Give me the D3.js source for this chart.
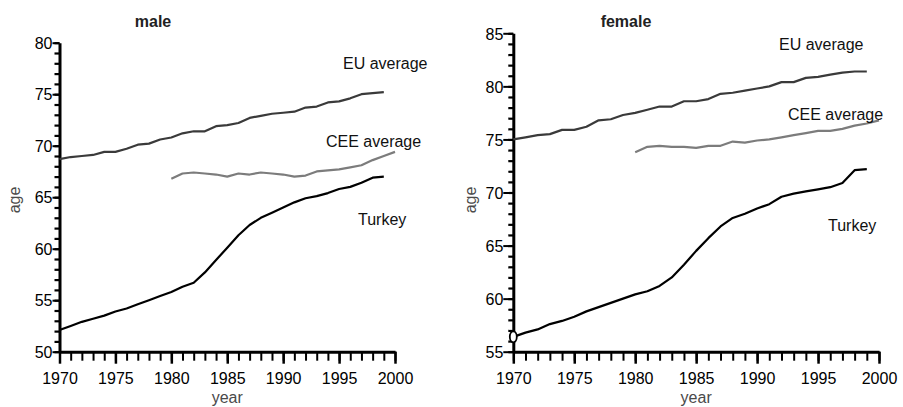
<!DOCTYPE html>
<html lang="en">
<head>
<meta charset="utf-8">
<title>Life expectancy</title>
<script src="https://cdn.jsdelivr.net/npm/d3@7"></script>
<style>
  body { margin: 0; background: #fff; }
  svg { display: block; font-family: "Liberation Sans", Arial, Helvetica, sans-serif; }
  .axis path, .axis line { stroke: #000; }
  .axis text { font-size: 16px; fill: #000; font-family: "Liberation Sans", Arial, sans-serif; }
</style>
</head>
<body>
<svg id="chart" width="903" height="407"></svg>
<script>
// years
let years_full = d3.range(1970, 2000);   // 1970..1999
let years_cee = d3.range(1980, 2001);    // 1980..2000
let x_ticks = [1970, 1975, 1980, 1985, 1990, 1995, 2000];

// male
let male_eu = [68.7, 68.9, 69.0, 69.1, 69.4, 69.4, 69.7, 70.1, 70.2, 70.6,
               70.8, 71.2, 71.4, 71.4, 71.9, 72.0, 72.2, 72.7, 72.9, 73.1,
               73.2, 73.3, 73.7, 73.8, 74.2, 74.3, 74.6, 75.0, 75.1, 75.2];
let male_cee = [66.8, 67.3, 67.4, 67.3, 67.2, 67.0, 67.3, 67.2, 67.4, 67.3,
                67.2, 67.0, 67.1, 67.5, 67.6, 67.7, 67.9, 68.1, 68.6, 69.0, 69.4];
let male_turkey = [52.1, 52.5, 52.9, 53.2, 53.5, 53.9, 54.2, 54.6, 55.0, 55.4,
                   55.8, 56.3, 56.7, 57.7, 58.9, 60.1, 61.3, 62.3, 63.0, 63.5,
                   64.0, 64.5, 64.9, 65.1, 65.4, 65.8, 66.0, 66.4, 66.9, 67.0];

// female
let female_eu = [75.0, 75.2, 75.4, 75.5, 75.9, 75.9, 76.2, 76.8, 76.9, 77.3,
                 77.5, 77.8, 78.1, 78.1, 78.6, 78.6, 78.8, 79.3, 79.4, 79.6,
                 79.8, 80.0, 80.4, 80.4, 80.8, 80.9, 81.1, 81.3, 81.4, 81.4];
let female_cee = [73.8, 74.3, 74.4, 74.3, 74.3, 74.2, 74.4, 74.4, 74.8, 74.7,
                  74.9, 75.0, 75.2, 75.4, 75.6, 75.8, 75.8, 76.0, 76.3, 76.5, 76.8];
let female_turkey = [56.4, 56.8, 57.1, 57.6, 57.9, 58.3, 58.8, 59.2, 59.6, 60.0,
                     60.4, 60.7, 61.2, 62.0, 63.2, 64.5, 65.7, 66.8, 67.6, 68.0,
                     68.5, 68.9, 69.6, 69.9, 70.1, 70.3, 70.5, 70.9, 72.1, 72.2];

let svg = d3.select('#chart');

function zip(xs, ys){
    return xs.map((x, i) => ({x: x, y: ys[i]}));
}

function draw_panel(p){
    let x = d3.scaleLinear().domain([1970, 2000]).range(p.xr);
    let y = d3.scaleLinear().domain(p.yd).range(p.yr);
    let g = svg.append('g');

    // minor ticks y
    g.append('g').attr('class', 'axis')
        .attr('transform', `translate(${p.xr[0]},0)`)
        .call(d3.axisLeft(y).tickValues(d3.range(p.yd[0], p.yd[1] + 1)).tickSize(5).tickFormat(''))
        .call(a => a.selectAll('line').attr('stroke-width', 2.2))
        .call(a => a.select('.domain').remove());
    // major ticks y
    g.append('g').attr('class', 'axis')
        .attr('transform', `translate(${p.xr[0]},0)`)
        .call(d3.axisLeft(y).tickValues(d3.range(p.yd[0], p.yd[1] + 1, 5)).tickSize(p.ytick).tickSizeOuter(0).tickPadding(0))
        .call(a => a.selectAll('line').attr('stroke-width', 2))
        .call(a => a.select('.domain').attr('stroke-width', 3))
        .call(a => a.selectAll('text').attr('dy', '0.36em'));

    // x axis
    g.append('g').attr('class', 'axis')
        .attr('transform', `translate(0,${p.yr[0]})`)
        .call(d3.axisBottom(x).tickValues(d3.range(1970, 2001)).tickSize(9).tickFormat(''))
        .call(a => a.selectAll('line').attr('stroke-width', 2))
        .call(a => a.select('.domain').remove());
    g.append('g').attr('class', 'axis')
        .attr('transform', `translate(0,${p.yr[0]})`)
        .call(d3.axisBottom(x).tickValues(x_ticks).tickSize(12).tickSizeOuter(0).tickPadding(9).tickFormat(d3.format('d')))
        .call(a => a.selectAll('line').attr('stroke-width', 2.5))
        .call(a => a.select('.domain').attr('stroke-width', 3))
        .call(a => a.selectAll('text').attr('dy', '0.72em'));

    let line = d3.line().x(d => x(d.x)).y(d => y(d.y));
    p.series.forEach(s => {
        g.append('path')
            .datum(zip(s.years, s.values))
            .attr('d', line)
            .attr('fill', 'none')
            .attr('stroke', s.color)
            .attr('stroke-width', 2.2)
            .attr('stroke-linejoin', 'round');
        g.append('text')
            .attr('x', s.lx).attr('y', s.ly)
            .attr('font-size', 16)
            .attr('fill', '#111')
            .text(s.name);
    });

    if(p.marker){
        g.append('ellipse')
            .attr('cx', x(p.marker.x)).attr('cy', y(p.marker.y))
            .attr('rx', 3.5).attr('ry', 5.5)
            .attr('fill', '#fff').attr('stroke', '#000').attr('stroke-width', 1.8);
    }

    // title
    g.append('text')
        .attr('x', p.tx).attr('y', 26.5)
        .attr('text-anchor', 'middle')
        .attr('font-size', 16).attr('font-weight', 'bold').attr('fill', '#222')
        .text(p.title);
    // axis titles
    g.append('text')
        .attr('x', (p.xr[0] + p.xr[1]) / 2).attr('y', 403)
        .attr('text-anchor', 'middle')
        .attr('font-size', 16).attr('fill', '#4a4a4a')
        .text('year');
    g.append('text')
        .attr('transform', `translate(${p.ax},200) rotate(-90)`)
        .attr('text-anchor', 'middle')
        .attr('font-size', 16).attr('fill', '#4a4a4a')
        .text('age');
}

draw_panel({
    title: 'male', tx: 153, ax: 20,
    xr: [59.5, 395], yd: [50, 80], yr: [351.7, 42.7], ytick: 7,
    series: [
        {name: 'EU average', years: years_full, values: male_eu, color: '#3a3a3a', lx: 343, ly: 69},
        {name: 'CEE average', years: years_cee, values: male_cee, color: '#7c7c7c', lx: 326, ly: 147},
        {name: 'Turkey', years: years_full, values: male_turkey, color: '#000', lx: 358, ly: 225}
    ]
});

draw_panel({
    title: 'female', tx: 626, ax: 476,
    xr: [513.3, 879], yd: [55, 85], yr: [351.7, 33.3], ytick: 10,
    series: [
        {name: 'EU average', years: years_full, values: female_eu, color: '#3a3a3a', lx: 779, ly: 50},
        {name: 'CEE average', years: years_cee, values: female_cee, color: '#7c7c7c', lx: 788, ly: 120},
        {name: 'Turkey', years: years_full, values: female_turkey, color: '#000', lx: 828, ly: 231}
    ],
    marker: {x: 1970, y: 56.4}
});
</script>
</body>
</html>
